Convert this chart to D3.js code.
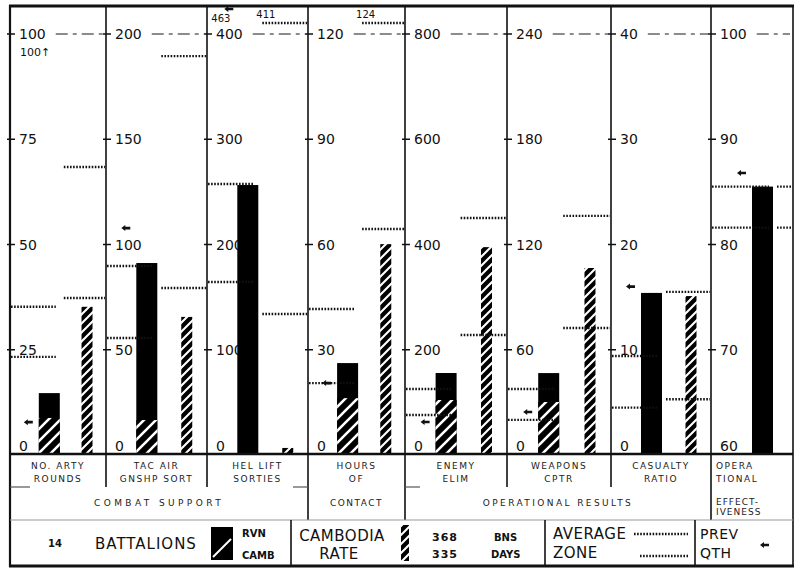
<!DOCTYPE html>
<html><head><meta charset="utf-8">
<script src="https://cdn.jsdelivr.net/npm/d3@7"></script>
<style>body{margin:0;background:#fff}svg{display:block}</style>
</head><body>
<svg id="c" width="796" height="570"></svg>
<script>
// ---------------- DATA ----------------
const categories = [["NO. ARTY","ROUNDS"],["TAC AIR","GNSHP SORT"],["HEL LIFT","SORTIES"],["HOURS","OF"],["ENEMY","ELIM"],["WEAPONS","CPTR"],["CASUALTY","RATIO"],["OPERA","TIONAL"]];
const groups = [["COMBAT SUPPORT",0,3],["CONTACT",3,4],["OPERATIONAL RESULTS",4,7]];
const scaleMin = [0,0,0,0,0,0,0,60];
const scaleMax = [100,200,400,120,800,240,40,100];
const tickLabels = [
  ["0","25","50","75","100"],
  ["0","50","100","150","200"],
  ["0","100","200","300","400"],
  ["0","30","60","90","120"],
  ["0","200","400","600","800"],
  ["0","60","120","180","240"],
  ["0","10","20","30","40"],
  ["60","70","80","90","100"]];
const rvnValues      = [14.7, 91.2, 256.5, 26.2, 155.8, 46.7, 15.4, 85.5];
const rvnCambPortion = [8.8, 16.6, 0, 16.2, 104.5, 30.2, 0, 0];
const cambValues     = [35.2, 65.6, 6.7, 60.1, 395, 106.6, 15.1, null];
const rvnAvgZone  = [[35.2,23.3],[89.8,55.6],[257.5,164.4],[41.6,20.5],[125.4,76],[37.6,20],[4.5,9.4],[85.5,81.6]];
const cambAvgZone = [[68.4,37.3],[189.5,79.3],[411,134],[124,64.4],[450.4,228],[136.3,72.4],[15.5,5.3],[85.5,81.6]];
const prevQtr     = [7.8, 107.8, 463, 20.5, 62.7, 24.5, 16, 86.8];

// ---------------- LAYOUT ----------------
const svg = d3.select("#c");
const FONT = "DejaVu Sans, Liberation Sans, sans-serif";
const INK = "#111";
const edges = [10,106,207,308,405,507,611,711,793];
const px = d3.scaleLinear().domain(d3.range(9)).range(edges);
const Y0 = 455, Y1 = 34;
const ys = scaleMin.map((m,i)=>d3.scaleLinear().domain([m, scaleMax[i]]).range([Y0, Y1]));

const defs = svg.append("defs");
function hatch(id, s, sw){
  const p = defs.append("pattern").attr("id",id).attr("patternUnits","userSpaceOnUse").attr("width",s).attr("height",s);
  p.append("rect").attr("width",s).attr("height",s).attr("fill","#000");
  p.append("path").attr("d",`M0,${s} L${s},0 M${-s/2},${s/2} L${s/2},${-s/2} M${s/2},${s*1.5} L${s*1.5},${s/2}`)
   .attr("stroke","#fff").attr("stroke-width",sw);
}
hatch("hC", 9, 2.1);
hatch("hR", 12, 2.6);

svg.append("rect").attr("width",796).attr("height",570).attr("fill","#fff");

function barGeom(i){
  const l = px(i), w = px(i+1)-px(i);
  const hasCamb = cambValues[i] !== null;
  const rl = hasCamb ? l + 0.30*w : l + 0.5*w;
  return {l, w, r: px(i+1), rl, rr: rl+21, cl: l+0.745*w, cw: 11};
}

function arrow(g, x, y){
  g.append("path").attr("d",`M${x},${y} L${x+4},${y-3} L${x+4},${y-1.3} L${x+9},${y-1.3} L${x+9},${y+1.3} L${x+4},${y+1.3} L${x+4},${y+3} Z`).attr("fill",INK);
}

function dotted(g, x0, x1, y){
  g.append("line").attr("x1",x0).attr("x2",x1).attr("y1",y).attr("y2",y)
   .attr("stroke",INK).attr("stroke-width",2.4).attr("stroke-dasharray","1.6,1.5");
}

const gP = svg.append("g");
for (let i=0;i<8;i++){
  const b = barGeom(i), y = ys[i], g = gP.append("g");
  // tick labels + marks
  tickLabels[i].forEach((t,k)=>{
    const v = +t;
    const ty = k===0 ? 451 : y(v)+5;
    const lbl = g.append("text").attr("x",b.l+9).attr("y",ty).text(t)
      .attr("font-family",FONT).attr("font-size",14).attr("fill",INK);
    if (k>0) g.append("line").attr("x1",b.l-3).attr("x2",b.l+5).attr("y1",y(v)).attr("y2",y(v)).attr("stroke",INK).attr("stroke-width",1.5);
    if (k===tickLabels[i].length-1){
      const x0 = b.l+9+lbl.node().getComputedTextLength()+10;
      g.append("line").attr("x1",x0).attr("x2",b.r-3).attr("y1",y(v)).attr("y2",y(v))
        .attr("stroke","#666").attr("stroke-width",1.3).attr("stroke-dasharray","12,5,4,5");
    }
  });
  // bars
  g.append("rect").attr("x",b.rl).attr("width",b.rr-b.rl).attr("y",y(rvnValues[i])).attr("height",Y0-y(rvnValues[i])).attr("fill","#000");
  if (rvnCambPortion[i]>0)
    g.append("rect").attr("x",b.rl).attr("width",b.rr-b.rl).attr("y",y(rvnCambPortion[i])).attr("height",Y0-y(rvnCambPortion[i])).attr("fill","url(#hR)");
  if (cambValues[i]!==null)
    g.append("rect").attr("x",b.cl).attr("width",b.cw).attr("y",y(cambValues[i])).attr("height",Y0-y(cambValues[i])).attr("fill","url(#hC)");
  // average / zone lines
  rvnAvgZone[i].forEach(v=>{
    dotted(g, b.l+1, b.rr-4, y(v));
  });
  cambAvgZone[i].forEach(v=>{
    const x0 = b.rr+4;
    if (v>scaleMax[i]){
      dotted(g, x0, b.r-1, 23);
      g.append("text").attr("x",x0-6).attr("y",18).text(String(v)).attr("font-family",FONT).attr("font-size",10).attr("fill",INK);
    } else dotted(g, x0, b.r-1, y(v));
  });
  // previous quarter marker
  const ax = b.rl-15;
  if (prevQtr[i]>scaleMax[i]){
    arrow(g, ax+2, 9);
    g.append("text").attr("x",b.rl-26).attr("y",22).text(String(prevQtr[i])).attr("font-family",FONT).attr("font-size",10).attr("fill",INK);
  } else arrow(g, ax, y(prevQtr[i]));
}
// panel 1 annotation
svg.append("text").attr("x",20).attr("y",56).text("100↑").attr("font-family",FONT).attr("font-size",11).attr("fill",INK);

// ---------------- FRAME ----------------
const gF = svg.append("g").attr("stroke",INK).attr("fill","none");
const divEnd = [487,487,520,520,487,487,520];
for (let k=1;k<8;k++) gF.append("line").attr("x1",px(k)).attr("x2",px(k)).attr("y1",6).attr("y2",divEnd[k-1]).attr("stroke-width",1.6);
gF.append("line").attr("x1",10).attr("x2",10).attr("y1",5).attr("y2",567).attr("stroke-width",2.2);
gF.append("line").attr("x1",793).attr("x2",793).attr("y1",5).attr("y2",567).attr("stroke-width",1.6);
gF.append("line").attr("x1",9).attr("x2",794).attr("y1",6).attr("y2",6).attr("stroke-width",3);
gF.append("line").attr("x1",9).attr("x2",794).attr("y1",566).attr("y2",566).attr("stroke-width",3);
gF.append("line").attr("x1",10).attr("x2",793).attr("y1",454).attr("y2",454).attr("stroke-width",2.6);
gF.append("line").attr("x1",10).attr("x2",793).attr("y1",520).attr("y2",520).attr("stroke-width",1).attr("stroke","#999");
[[10,30],[293,308],[405,420]].forEach(s=>gF.append("line").attr("x1",s[0]).attr("x2",s[1]).attr("y1",487).attr("y2",487).attr("stroke-width",1.2).attr("stroke","#555"));
[[291],[545],[695]].forEach(s=>gF.append("line").attr("x1",s[0]).attr("x2",s[0]).attr("y1",520).attr("y2",566).attr("stroke-width",1.6));

// ---------------- CATEGORY LABELS ----------------
const gC = svg.append("g").attr("font-family",FONT).attr("font-size",9).attr("fill","#222").attr("letter-spacing",1.5);
categories.forEach((c,i)=>{
  const b = barGeom(i);
  const last = i===7;
  c.forEach((s,j)=>{
    gC.append("text").attr("x", last ? b.l+5 : b.l+b.w/2).attr("y",469+j*13)
      .attr("text-anchor", last ? "start":"middle").text(s);
  });
});
groups.forEach(gr=>{
  gC.append("text").attr("x",(px(gr[1])+px(gr[2]))/2).attr("y",506).attr("text-anchor","middle")
    .attr("letter-spacing",gr[0]==="CONTACT"?1.5:(gr[0]==="COMBAT SUPPORT"?3.4:2.4)).text(gr[0]);
});
gC.append("text").attr("x",716).attr("y",505).attr("letter-spacing",1).text("EFFECT-");
gC.append("text").attr("x",716).attr("y",515).attr("letter-spacing",1).text("IVENESS");

// ---------------- LEGEND ----------------
const gL = svg.append("g").attr("font-family",FONT).attr("fill",INK);
gL.append("text").attr("x",48).attr("y",547).attr("font-size",10).attr("font-weight","bold").text("14");
gL.append("text").attr("x",95).attr("y",549).attr("font-size",15).attr("letter-spacing",1).text("BATTALIONS");
gL.append("rect").attr("x",211).attr("y",527).attr("width",22).attr("height",33).attr("fill","#000");
gL.append("line").attr("x1",213).attr("y1",557).attr("x2",231).attr("y2",539).attr("stroke","#fff").attr("stroke-width",2);
gL.append("text").attr("x",242).attr("y",537).attr("font-size",10).attr("font-weight","bold").text("RVN");
gL.append("text").attr("x",242).attr("y",559).attr("font-size",10).attr("font-weight","bold").text("CAMB");
gL.append("text").attr("x",342).attr("y",541).attr("font-size",15).attr("text-anchor","middle").attr("letter-spacing",0.5).text("CAMBODIA");
gL.append("text").attr("x",339).attr("y",559).attr("font-size",15).attr("text-anchor","middle").attr("letter-spacing",0.5).text("RATE");
gL.append("rect").attr("x",401).attr("y",525).attr("width",8).attr("height",36).attr("fill","url(#hC)");
gL.append("text").attr("x",432).attr("y",541).attr("font-size",11).attr("font-weight","bold").attr("letter-spacing",1).text("368");
gL.append("text").attr("x",432).attr("y",558).attr("font-size",11).attr("font-weight","bold").attr("letter-spacing",1).text("335");
gL.append("text").attr("x",494).attr("y",541).attr("font-size",10).attr("font-weight","bold").text("BNS");
gL.append("text").attr("x",491).attr("y",558).attr("font-size",10).attr("font-weight","bold").text("DAYS");
gL.append("text").attr("x",553).attr("y",539).attr("font-size",15).attr("letter-spacing",0.5).text("AVERAGE");
gL.append("text").attr("x",553).attr("y",558).attr("font-size",15).attr("letter-spacing",0.5).text("ZONE");
dotted(gL, 634, 688, 534);
dotted(gL, 640, 688, 556);
gL.append("text").attr("x",700).attr("y",539).attr("font-size",14).attr("letter-spacing",0.5).text("PREV");
gL.append("text").attr("x",700).attr("y",558).attr("font-size",14).attr("letter-spacing",0.5).text("QTH");
arrow(gL, 760, 545);
</script>
</body></html>
